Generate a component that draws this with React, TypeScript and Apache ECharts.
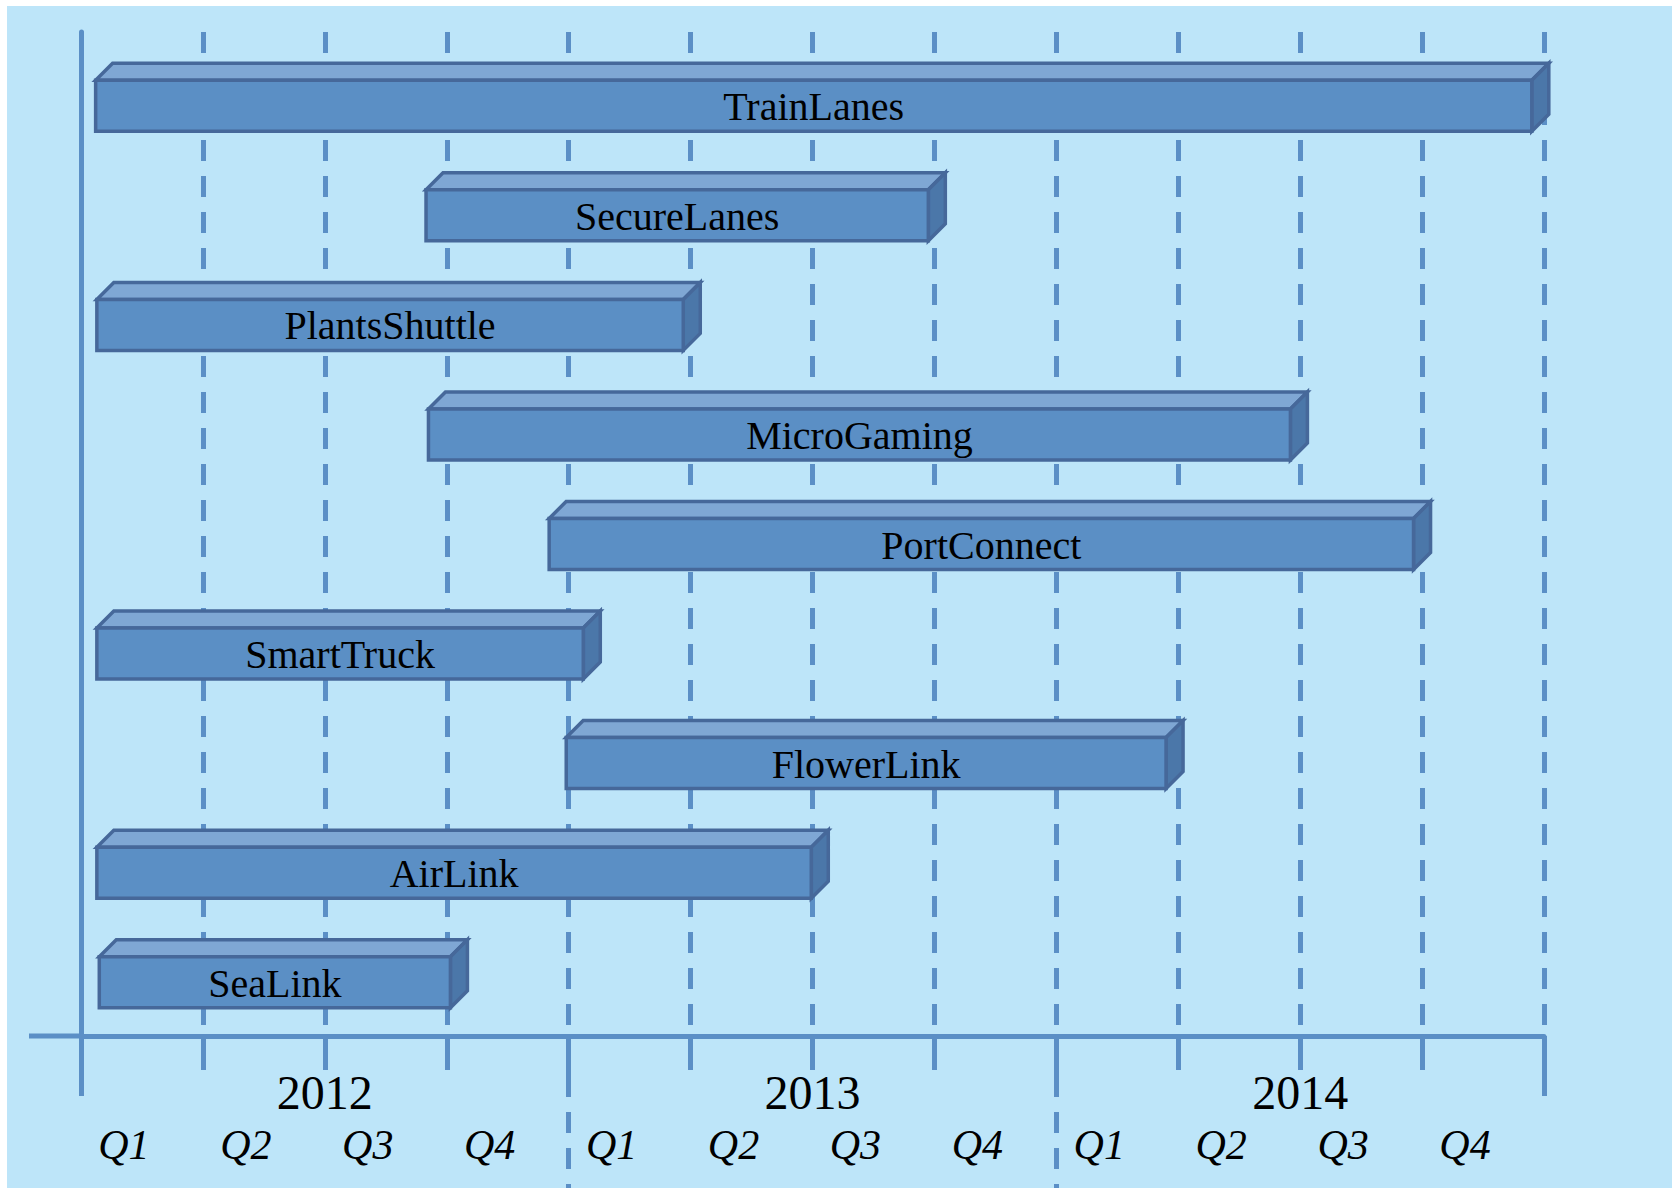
import React, { useEffect, useRef } from 'react';
import * as echarts from 'echarts';

// ---- data ----
const tasks = ['TrainLanes', 'SecureLanes', 'PlantsShuttle', 'MicroGaming', 'PortConnect', 'SmartTruck', 'FlowerLink', 'AirLink', 'SeaLink'];
// start / end of each bar, in quarters counted from 2012 Q1 (0) to end of 2014 Q4 (12)
const startQ = [0.12, 2.83, 0.13, 2.85, 3.84, 0.13, 3.98, 0.13, 0.15];
const endQ = [11.9, 6.95, 4.94, 9.92, 10.93, 4.12, 8.9, 5.99, 3.03];
const years = ['2012', '2013', '2014'];
const quarters = ['Q1', 'Q2', 'Q3', 'Q4', 'Q1', 'Q2', 'Q3', 'Q4', 'Q1', 'Q2', 'Q3', 'Q4'];

const LINE = '#5B8FC6';
const STROKE = '#46689A';
const FRONT = '#5B8FC5';
const TOP = '#7FA7D4';
const SIDE = '#4B77A9';
const FONT = "'Liberation Serif', 'Times New Roman', serif";

export default function App() {
  const ref = useRef<HTMLDivElement>(null);
  useEffect(() => {
    document.body.style.margin = '0';
    if (!ref.current) return;
    const chart = echarts.init(ref.current, undefined, { renderer: 'svg' });
    const gridL = 81;
    const gridR = 128;
    const option: any = {
      animation: false,
      backgroundColor: '#BDE5F9',
      grid: [
        { left: gridL, right: gridR, top: 32, bottom: 152 },
        { left: gridL, right: gridR, top: 51, bottom: 151 },
        { left: gridL, right: gridR, top: 32, bottom: 0 },
      ],
      xAxis: [
        {
          gridIndex: 0, type: 'value', min: 0, max: 12, interval: 1, position: 'bottom',
          axisLine: { show: true, onZero: false, lineStyle: { color: LINE, width: 5 } },
          axisTick: { show: true, length: 34, lineStyle: { color: LINE, width: 5 } },
          axisLabel: { show: false },
          splitLine: { show: true, showMinLine: false, lineStyle: { color: LINE, width: 5, type: [21, 15] } },
        },
        {
          gridIndex: 0, type: 'category', data: years, position: 'bottom', offset: 0,
          axisLine: { show: false },
          axisTick: { show: true, length: 60, lineStyle: { color: LINE, width: 5 } },
          axisLabel: { fontSize: 48, lineHeight: 48, margin: 32, color: '#000', fontFamily: FONT },
          splitLine: { show: false },
        },
        {
          gridIndex: 0, type: 'category', data: quarters, position: 'bottom', offset: 0,
          axisLine: { show: false },
          axisTick: { show: false },
          axisLabel: { fontSize: 42, lineHeight: 42, margin: 88, color: '#000', fontFamily: FONT, fontStyle: 'italic', padding: [0, 36, 0, 0] },
          splitLine: { show: false },
        },
        {
          gridIndex: 1, type: 'value', min: 0, max: 12, show: false,
        },
        {
          gridIndex: 2, type: 'value', min: 0, max: 12, interval: 4, position: 'bottom',
          axisLine: { show: false }, axisTick: { show: false }, axisLabel: { show: false },
          splitLine: { show: true, showMinLine: false, showMaxLine: false, lineStyle: { color: LINE, width: 5, type: [21, 15] } },
        },
      ],
      yAxis: [
        {
          gridIndex: 0, type: 'value', min: 0, max: 1, position: 'left',
          axisLine: { show: true, onZero: false, lineStyle: { color: LINE, width: 5 } },
          axisTick: { show: false }, axisLabel: { show: false }, splitLine: { show: false },
        },
        {
          gridIndex: 1, type: 'category', data: tasks, inverse: true, show: false,
        },
        {
          gridIndex: 2, type: 'value', min: 0, max: 1, show: false,
        },
      ],
      graphic: [
        { type: 'rect', shape: { x: 0, y: 0, width: 1672, height: 6 }, style: { fill: '#ffffff' }, silent: true },
        { type: 'rect', shape: { x: 0, y: 0, width: 7, height: 1188 }, style: { fill: '#ffffff' }, silent: true },
        { type: 'line', shape: { x1: 29, y1: 1036, x2: 82, y2: 1036 }, style: { stroke: LINE, lineWidth: 5 }, silent: true },
      ],
      series: [
        {
          type: 'custom',
          xAxisIndex: 3,
          yAxisIndex: 1,
          z: 10,
          encode: { x: [1, 2], y: 0 },
          data: tasks.map((t, i) => [i, startQ[i], endQ[i]]),
          renderItem: (params: any, api: any) => {
            const idx = api.value(0);
            const s = api.coord([api.value(1), idx]);
            const e = api.coord([api.value(2), idx]);
            const h = 51;
            const d = 17;
            const x0 = s[0];
            const x1 = e[0];
            const top = s[1] - h / 2;
            const bot = s[1] + h / 2;
            return {
              type: 'group',
              children: [
                {
                  type: 'polygon',
                  shape: { points: [[x0, top], [x0 + d, top - d], [x1 + d, top - d], [x1, top]] },
                  style: { fill: TOP, stroke: STROKE, lineWidth: 3.5, lineJoin: 'miter' },
                },
                {
                  type: 'polygon',
                  shape: { points: [[x1, top], [x1 + d, top - d], [x1 + d, bot - d], [x1, bot]] },
                  style: { fill: SIDE, stroke: STROKE, lineWidth: 3.5 },
                },
                {
                  type: 'rect',
                  shape: { x: x0, y: top, width: x1 - x0, height: h },
                  style: { fill: FRONT, stroke: STROKE, lineWidth: 3.5 },
                },
                {
                  type: 'text',
                  style: {
                    text: tasks[idx], x: (x0 + x1) / 2, y: s[1] + 1, align: 'center', verticalAlign: 'middle',
                    fontSize: 40, fontFamily: FONT, fill: '#000',
                  },
                },
              ],
            };
          },
        },
      ],
    };
    chart.setOption(option);
    return () => chart.dispose();
  }, []);
  return <div ref={ref} style={{ width: 1672, height: 1188 }} />;
}
